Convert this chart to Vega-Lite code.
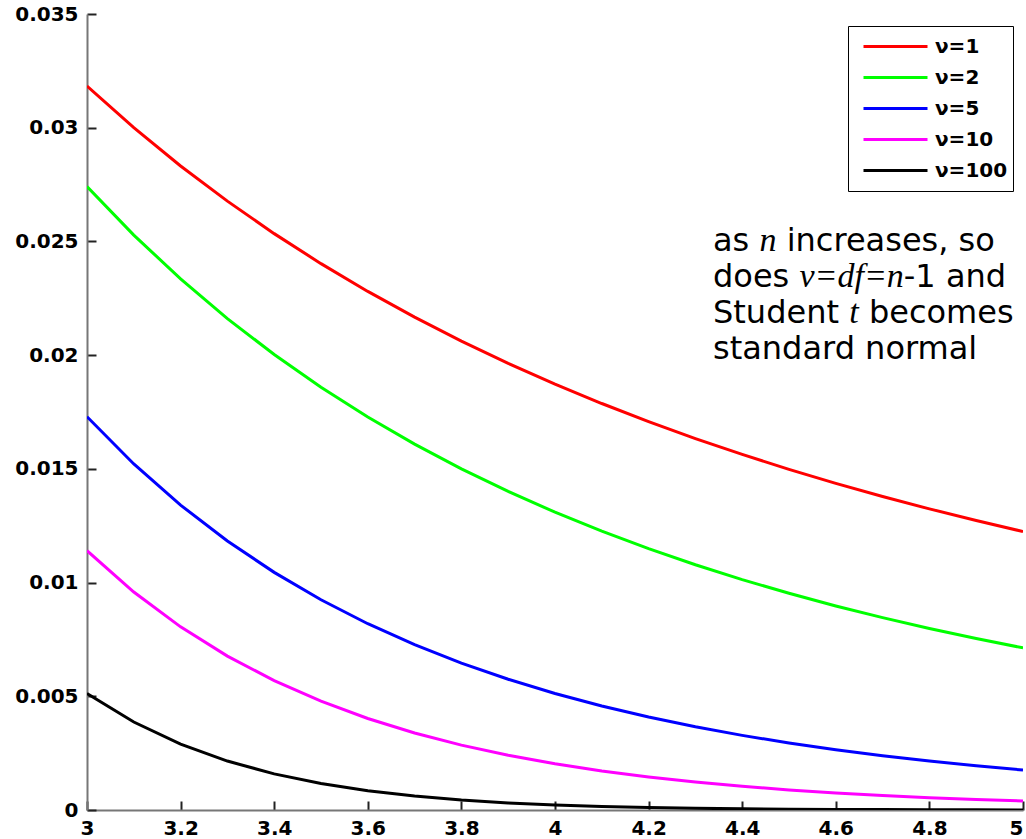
{
  "$schema": "https://vega.github.io/schema/vega-lite/v6.json",
  "width": 936,
  "height": 796,
  "autosize": "none",
  "padding": {"left": 87, "top": 14, "right": 3, "bottom": 29},
  "background": "white",
  "config": {
    "view": {"stroke": null},
    "font": "DejaVu Sans"
  },
  "datasets": {
    "curves": [
      {"x": 3.0, "series": "ν=1", "y": 0.031831}, {"x": 3.1, "series": "ν=1", "y": 0.030001}, {"x": 3.2, "series": "ν=1", "y": 0.028319}, {"x": 3.3, "series": "ν=1", "y": 0.026771}, {"x": 3.4, "series": "ν=1", "y": 0.025343}, {"x": 3.5, "series": "ν=1", "y": 0.024023}, {"x": 3.6, "series": "ν=1", "y": 0.022802}, {"x": 3.7, "series": "ν=1", "y": 0.021669}, {"x": 3.8, "series": "ν=1", "y": 0.020616}, {"x": 3.9, "series": "ν=1", "y": 0.019637}, {"x": 4.0, "series": "ν=1", "y": 0.018724}, {"x": 4.1, "series": "ν=1", "y": 0.017873}, {"x": 4.2, "series": "ν=1", "y": 0.017077}, {"x": 4.3, "series": "ν=1", "y": 0.016332}, {"x": 4.4, "series": "ν=1", "y": 0.015634}, {"x": 4.5, "series": "ν=1", "y": 0.014980}, {"x": 4.6, "series": "ν=1", "y": 0.014364}, {"x": 4.7, "series": "ν=1", "y": 0.013786}, {"x": 4.8, "series": "ν=1", "y": 0.013241}, {"x": 4.9, "series": "ν=1", "y": 0.012727}, {"x": 5.0, "series": "ν=1", "y": 0.012243},
      {"x": 3.0, "series": "ν=2", "y": 0.027410}, {"x": 3.1, "series": "ν=2", "y": 0.025279}, {"x": 3.2, "series": "ν=2", "y": 0.023352}, {"x": 3.3, "series": "ν=2", "y": 0.021608}, {"x": 3.4, "series": "ν=2", "y": 0.020027}, {"x": 3.5, "series": "ν=2", "y": 0.018590}, {"x": 3.6, "series": "ν=2", "y": 0.017282}, {"x": 3.7, "series": "ν=2", "y": 0.016090}, {"x": 3.8, "series": "ν=2", "y": 0.015002}, {"x": 3.9, "series": "ν=2", "y": 0.014006}, {"x": 4.0, "series": "ν=2", "y": 0.013095}, {"x": 4.1, "series": "ν=2", "y": 0.012258}, {"x": 4.2, "series": "ν=2", "y": 0.011489}, {"x": 4.3, "series": "ν=2", "y": 0.010782}, {"x": 4.4, "series": "ν=2", "y": 0.010130}, {"x": 4.5, "series": "ν=2", "y": 0.009528}, {"x": 4.6, "series": "ν=2", "y": 0.008972}, {"x": 4.7, "series": "ν=2", "y": 0.008457}, {"x": 4.8, "series": "ν=2", "y": 0.007981}, {"x": 4.9, "series": "ν=2", "y": 0.007539}, {"x": 5.0, "series": "ν=2", "y": 0.007128},
      {"x": 3.0, "series": "ν=5", "y": 0.017293}, {"x": 3.1, "series": "ν=5", "y": 0.015216}, {"x": 3.2, "series": "ν=5", "y": 0.013406}, {"x": 3.3, "series": "ν=5", "y": 0.011827}, {"x": 3.4, "series": "ν=5", "y": 0.010449}, {"x": 3.5, "series": "ν=5", "y": 0.009244}, {"x": 3.6, "series": "ν=5", "y": 0.008191}, {"x": 3.7, "series": "ν=5", "y": 0.007268}, {"x": 3.8, "series": "ν=5", "y": 0.006459}, {"x": 3.9, "series": "ν=5", "y": 0.005748}, {"x": 4.0, "series": "ν=5", "y": 0.005124}, {"x": 4.1, "series": "ν=5", "y": 0.004574}, {"x": 4.2, "series": "ν=5", "y": 0.004089}, {"x": 4.3, "series": "ν=5", "y": 0.003661}, {"x": 4.4, "series": "ν=5", "y": 0.003282}, {"x": 4.5, "series": "ν=5", "y": 0.002948}, {"x": 4.6, "series": "ν=5", "y": 0.002651}, {"x": 4.7, "series": "ν=5", "y": 0.002387}, {"x": 4.8, "series": "ν=5", "y": 0.002152}, {"x": 4.9, "series": "ν=5", "y": 0.001944}, {"x": 5.0, "series": "ν=5", "y": 0.001757},
      {"x": 3.0, "series": "ν=10", "y": 0.011401}, {"x": 3.1, "series": "ν=10", "y": 0.009582}, {"x": 3.2, "series": "ν=10", "y": 0.008052}, {"x": 3.3, "series": "ν=10", "y": 0.006767}, {"x": 3.4, "series": "ν=10", "y": 0.005689}, {"x": 3.5, "series": "ν=10", "y": 0.004784}, {"x": 3.6, "series": "ν=10", "y": 0.004025}, {"x": 3.7, "series": "ν=10", "y": 0.003388}, {"x": 3.8, "series": "ν=10", "y": 0.002854}, {"x": 3.9, "series": "ν=10", "y": 0.002407}, {"x": 4.0, "series": "ν=10", "y": 0.002031}, {"x": 4.1, "series": "ν=10", "y": 0.001716}, {"x": 4.2, "series": "ν=10", "y": 0.001451}, {"x": 4.3, "series": "ν=10", "y": 0.001228}, {"x": 4.4, "series": "ν=10", "y": 0.001041}, {"x": 4.5, "series": "ν=10", "y": 0.000883}, {"x": 4.6, "series": "ν=10", "y": 0.000750}, {"x": 4.7, "series": "ν=10", "y": 0.000638}, {"x": 4.8, "series": "ν=10", "y": 0.000544}, {"x": 4.9, "series": "ν=10", "y": 0.000464}, {"x": 5.0, "series": "ν=10", "y": 0.000396},
      {"x": 3.0, "series": "ν=100", "y": 0.005126}, {"x": 3.1, "series": "ν=100", "y": 0.003867}, {"x": 3.2, "series": "ν=100", "y": 0.002895}, {"x": 3.3, "series": "ν=100", "y": 0.002152}, {"x": 3.4, "series": "ν=100", "y": 0.001587}, {"x": 3.5, "series": "ν=100", "y": 0.001163}, {"x": 3.6, "series": "ν=100", "y": 0.000845}, {"x": 3.7, "series": "ν=100", "y": 0.000611}, {"x": 3.8, "series": "ν=100", "y": 0.000438}, {"x": 3.9, "series": "ν=100", "y": 0.000312}, {"x": 4.0, "series": "ν=100", "y": 0.000221}, {"x": 4.1, "series": "ν=100", "y": 0.000156}, {"x": 4.2, "series": "ν=100", "y": 0.000109}, {"x": 4.3, "series": "ν=100", "y": 0.0000757}, {"x": 4.4, "series": "ν=100", "y": 0.0000523}, {"x": 4.5, "series": "ν=100", "y": 0.0000359}, {"x": 4.6, "series": "ν=100", "y": 0.0000246}, {"x": 4.7, "series": "ν=100", "y": 0.0000167}, {"x": 4.8, "series": "ν=100", "y": 0.0000113}, {"x": 4.9, "series": "ν=100", "y": 0.0000076}, {"x": 5.0, "series": "ν=100", "y": 0.0000051}
    ],
    "annot_sans": [
      {"x": 4.33761, "y": 0.024594, "t": "as"},
      {"x": 4.49509, "y": 0.024594, "t": "increases, so"},
      {"x": 4.33761, "y": 0.023010, "t": "does"},
      {"x": 4.74530, "y": 0.023010, "t": "-1 and"},
      {"x": 4.33761, "y": 0.021427, "t": "Student"},
      {"x": 4.67073, "y": 0.021427, "t": "becomes"},
      {"x": 4.33761, "y": 0.019843, "t": "standard normal"}
    ],
    "annot_serif": [
      {"x": 4.43697, "y": 0.024594, "t": "n"},
      {"x": 4.52222, "y": 0.023010, "t": "v=df=n"},
      {"x": 4.62863, "y": 0.021427, "t": "t"}
    ]
  },
  "encoding": {
    "x": {
      "field": "x", "type": "quantitative",
      "scale": {"domain": [3, 5], "nice": false, "zero": false},
      "axis": {
        "title": null, "grid": false,
        "values": [3, 3.2, 3.4, 3.6, 3.8, 4, 4.2, 4.4, 4.6, 4.8, 5],
        "format": "~g",
        "domainColor": "#777777", "domainWidth": 2,
        "ticks": true, "tickColor": "#222222", "tickWidth": 2, "tickSize": -9,
        "labelPadding": 17, "labelBaseline": "top",
        "labelAlign": {"condition": {"test": "datum.value >= 5", "value": "right"}, "value": "center"},
        "labelFont": "DejaVu Sans", "labelFontWeight": "bold", "labelFontSize": 20, "labelColor": "black",
        "labelFlush": false, "labelOverlap": false
      }
    },
    "y": {
      "field": "y", "type": "quantitative",
      "scale": {"domain": [0, 0.035], "nice": false},
      "axis": {
        "title": null, "grid": false,
        "values": [0, 0.005, 0.01, 0.015, 0.02, 0.025, 0.03, 0.035],
        "format": "~g",
        "domainColor": "#777777", "domainWidth": 2,
        "ticks": true, "tickColor": "#222222", "tickWidth": 2, "tickSize": -9,
        "labelPadding": 18,
        "labelFont": "DejaVu Sans", "labelFontWeight": "bold", "labelFontSize": 20, "labelColor": "black",
        "labelFlush": false, "labelOverlap": false
      }
    }
  },
  "layer": [
    {
      "data": {"name": "curves"},
      "mark": {"type": "line", "strokeWidth": 3, "clip": true},
      "encoding": {
        "color": {
          "field": "series", "type": "nominal",
          "scale": {"domain": ["ν=1", "ν=2", "ν=5", "ν=10", "ν=100"], "range": ["#ff0000", "#00ff00", "#0000ff", "#ff00ff", "#000000"]},
          "legend": {
            "title": null, "orient": "none", "legendX": 761, "legendY": 12,
            "fillColor": "white", "strokeColor": "black", "padding": 5, "cornerRadius": 0,
            "symbolType": "stroke", "symbolSize": 4096, "symbolStrokeWidth": 3, "symbolOffset": 9,
            "clipHeight": 31, "rowPadding": 0,
            "labelFont": "DejaVu Sans", "labelFontWeight": "bold", "labelFontSize": 20, "labelColor": "black", "labelOffset": 6
          }
        }
      }
    },
    {
      "data": {"name": "annot_sans"},
      "mark": {"type": "text", "align": "left", "baseline": "alphabetic", "font": "DejaVu Sans", "fontSize": 32, "color": "black"},
      "encoding": {"text": {"field": "t"}}
    },
    {
      "data": {"name": "annot_serif"},
      "mark": {"type": "text", "align": "left", "baseline": "alphabetic", "font": "Liberation Serif", "fontStyle": "italic", "fontSize": 34, "color": "black"},
      "encoding": {"text": {"field": "t"}}
    }
  ]
}
